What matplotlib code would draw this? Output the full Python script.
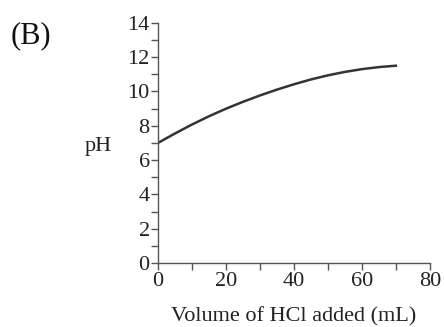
import matplotlib
matplotlib.use("Agg")
import matplotlib.pyplot as plt
from matplotlib.ticker import MultipleLocator

plt.rcParams['font.family'] = ['Liberation Serif', 'DejaVu Serif']

# volume of HCl added (mL) and pH
volume = [0, 5, 10, 15, 20, 25, 30, 35, 40, 45, 50, 55, 60, 65, 70]
ph = [7.0, 7.55, 8.07, 8.55, 8.99, 9.39, 9.76, 10.1, 10.41, 10.69, 10.93, 11.13, 11.29, 11.41, 11.49]

x_ticks = [0, 20, 40, 60, 80]
y_ticks = [0, 2, 4, 6, 8, 10, 12, 14]

fig = plt.figure(figsize=(4.44, 3.27), dpi=100)
ax = fig.add_axes([0.356, 0.195, 0.612, 0.736])

ax.plot(volume, ph, color="#333333", linewidth=1.8)

ax.set_xlim(0, 80)
ax.set_ylim(0, 14)
ax.set_xticks(x_ticks)
ax.set_yticks(y_ticks)
ax.xaxis.set_minor_locator(MultipleLocator(10))
ax.yaxis.set_minor_locator(MultipleLocator(1))

for s in ["top", "right"]:
    ax.spines[s].set_visible(False)
for s in ["left", "bottom"]:
    ax.spines[s].set_color("#555555")
    ax.spines[s].set_linewidth(1.0)

ax.tick_params(which="both", direction="out", color="#555555", width=1.0,
               labelsize=16, labelcolor="#222222", pad=1)
ax.tick_params(which="major", length=5)
ax.tick_params(which="minor", length=5)

ax.set_xlabel("Volume of HCl added (mL)", fontsize=16, color="#222222", labelpad=12)
fig.text(0.19, 0.552, "pH", fontsize=16, color="#222222", ha="left", va="center")
fig.text(0.024, 0.89, "(B)", fontsize=22, color="#111111", ha="left", va="center")

fig.savefig("out.png", dpi=100)
